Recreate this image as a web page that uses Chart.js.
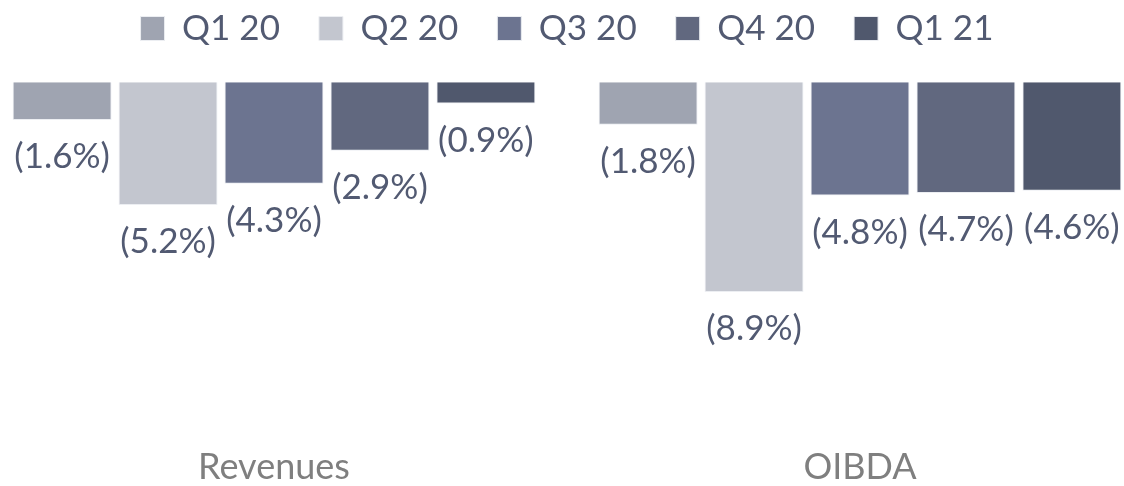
<!DOCTYPE html>
<html>
<head>
<meta charset="utf-8">
<script src="https://cdn.jsdelivr.net/npm/chart.js@4/dist/chart.umd.min.js"></script>
<style>
  html, body { margin: 0; padding: 0; background: #fff; overflow: hidden; }
  #wrap { position: relative; width: 1172px; height: 486px; margin-left: -19px; }
</style>
</head>
<body>
<div id="wrap"><canvas id="chart"></canvas></div>
<script>
const categories = ["Revenues", "OIBDA"];
const quarters = ["Q1 20", "Q2 20", "Q3 20", "Q4 20", "Q1 21"];
const q1_20 = [-1.6, -1.8];
const q2_20 = [-5.2, -8.9];
const q3_20 = [-4.3, -4.8];
const q4_20 = [-2.9, -4.7];
const q1_21 = [-0.9, -4.6];
const colors = ["#9fa4b1", "#c3c6cf", "#6c7490", "#61687f", "#50586d"];

const textColor = "#525a72";
const font = "Lato, 'Open Sans', sans-serif";

// labels "(x.x%)" under each bar
const barLabels = {
  id: "barLabels",
  afterDatasetsDraw(chart) {
    const ctx = chart.ctx;
    ctx.save();
    ctx.font = "35px " + font;
    ctx.fillStyle = textColor;
    ctx.textAlign = "center";
    ctx.textBaseline = "middle";
    chart.data.datasets.forEach((ds, i) => {
      chart.getDatasetMeta(i).data.forEach((bar, j) => {
        const v = ds.data[j];
        ctx.fillText("(" + Math.abs(v).toFixed(1) + "%)", bar.x, bar.y + 37);
      });
    });
    ctx.restore();
  }
};

const series = [q1_20, q2_20, q3_20, q4_20, q1_21];

new Chart(document.getElementById("chart"), {
  type: "bar",
  data: {
    labels: categories,
    datasets: series.map((d, i) => ({
      label: quarters[i],
      data: d,
      backgroundColor: colors[i],
      borderColor: "#eceef2",
      borderWidth: 1,
      categoryPercentage: 0.904,
      barPercentage: 0.934,
    }))
  },
  options: {
    responsive: true,
    maintainAspectRatio: false,
    animation: false,
    layout: { padding: { top: -28, bottom: -11 } },
    plugins: {
      tooltip: { enabled: false },
      legend: {
        position: "top",
        labels: {
          boxWidth: 24,
          boxHeight: 24,
          padding: 39,
          color: textColor,
          font: { family: font, size: 35 }
        }
      }
    },
    scales: {
      x: {
        grid: { display: false, drawTicks: false },
        border: { display: false },
        ticks: { color: "#7f7f7f", padding: 8, font: { family: font, size: 36 } }
      },
      y: {
        display: false,
        min: -15.08,
        max: 1.116
      }
    }
  },
  plugins: [barLabels]
});
</script>
</body>
</html>
